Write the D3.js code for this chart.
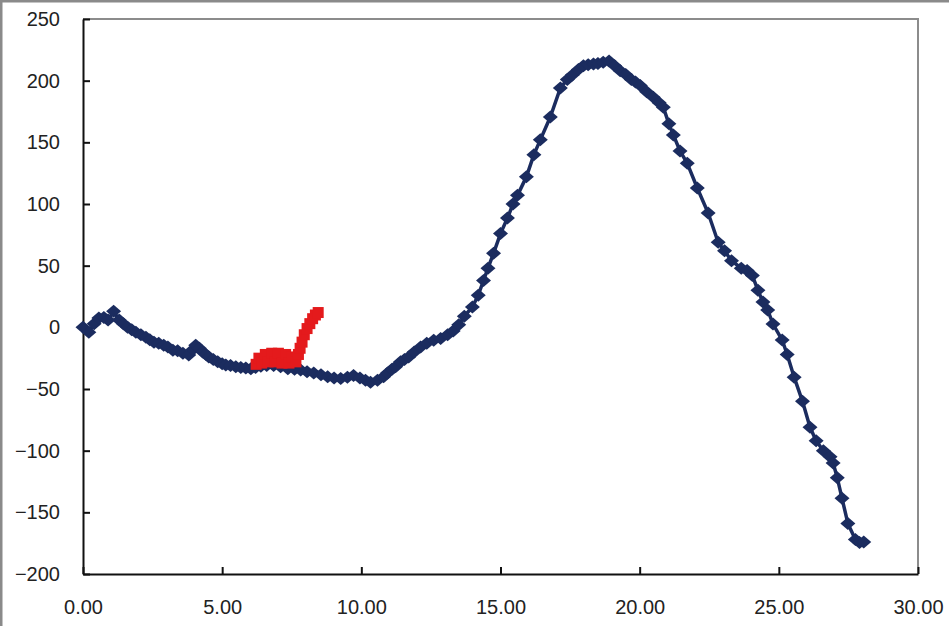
<!DOCTYPE html>
<html>
<head>
<meta charset="utf-8">
<script src="https://cdn.jsdelivr.net/npm/d3@7"></script>
<style>
  html, body { margin: 0; padding: 0; background: #fff; }
  svg { display: block; }
  .axis text { font-family: "Liberation Sans", Arial, sans-serif; font-size: 20px; fill: #222; }
</style>
</head>
<body>
<svg id="chart" width="949" height="626"></svg>
<script>
// Main trace (navy diamonds): x positions and values
const mainX = [0.00,0.21,0.40,0.57,0.75,0.90,1.10,1.30,1.45,1.60,1.75,1.90,2.08,2.26,2.40,2.55,2.72,2.90,3.05,3.23,
  3.40,3.59,3.80,3.95,4.05,4.18,4.30,4.42,4.52,4.68,4.84,5.00,5.13,5.30,5.49,5.67,5.85,6.03,6.20,6.39,
  6.60,6.85,7.10,7.36,7.60,7.82,8.05,8.29,8.55,8.79,9.02,9.26,9.50,9.72,9.95,10.15,10.33,10.58,10.80,10.94,
  11.10,11.23,11.41,11.55,11.70,11.90,12.13,12.35,12.60,12.85,13.10,13.30,13.50,13.70,13.99,14.20,14.39,14.55,14.75,15.00,
  15.25,15.45,15.61,15.93,16.20,16.43,16.79,17.15,17.40,17.58,17.80,17.98,18.15,18.34,18.50,18.69,18.90,19.10,19.30,19.50,
  19.70,19.85,20.02,20.25,20.49,20.70,20.85,21.05,21.21,21.45,21.71,22.07,22.46,22.82,23.05,23.30,23.65,23.86,24.05,24.25,
  24.43,24.60,24.79,25.12,25.30,25.55,25.85,26.12,26.34,26.60,26.84,26.95,27.10,27.27,27.48,27.75,27.90,28.05];
const mainY = [0,-4,3,7.5,8,6,13,6,3,0,-2,-4,-6,-8,-10,-12,-13,-14.5,-16,-18.5,
  -19,-21,-22.5,-18,-14.5,-17,-20,-22,-24,-26,-28,-29.5,-30.5,-31,-32,-32.5,-33,-33.5,-32.5,-31.5,
  -31,-31,-32,-33.5,-34,-34.5,-36,-37,-38.5,-40,-41,-41.5,-40.5,-39,-41,-43,-44.5,-43,-40,-37,
  -34,-32,-28,-26,-24,-20,-16,-13,-10.5,-9,-6,-3,2,9,16.5,26,38,48,60,76,
  88.6,100,107,122,140,152,170.5,194,201,204.5,209,212,213,213.5,214,215,216,212,208,205,
  201,199,196,191,186.5,182,178.5,165,156,143,133,113,92.7,69,62,54,48,46,42,30,
  20.5,14,2.7,-10.3,-22,-40.4,-60,-81,-92,-100,-105,-110,-122,-138.6,-159,-172,-174.5,-174];

// Short branch (red squares)
const branchX = [6.22,6.32,6.42,6.55,6.65,6.78,6.90,7.02,7.15,7.28,7.40,7.52,7.65,7.74,7.80,7.87,7.95,8.05,8.15,8.25,8.35,8.45];
const branchY = [-30,-25,-29,-22,-28,-21,-28,-21,-29,-22,-29,-24,-28,-22,-17,-12,-6,-1,3,7,10,12];

// Axis ticks
const xTicks = [0, 5, 10, 15, 20, 25, 30];
const yTicks = [-200, -150, -100, -50, 0, 50, 100, 150, 200, 250];

const svg = d3.select("#chart");
const W = 949, H = 626;
const plot = { left: 83, right: 918, top: 19, bottom: 574 };

const x = d3.scaleLinear().domain([0, 30]).range([plot.left, plot.right]);
const y = d3.scaleLinear().domain([-200, 250]).range([plot.bottom, plot.top]);

// Outer frame (top and left edges)
svg.append("line").attr("x1", 0).attr("x2", W).attr("y1", 1).attr("y2", 1)
  .attr("stroke", "#8a8a8a").attr("stroke-width", 3);
svg.append("line").attr("x1", 1).attr("x2", 1).attr("y1", 0).attr("y2", H)
  .attr("stroke", "#8a8a8a").attr("stroke-width", 3);

// Plot area border (top and right)
svg.append("path")
  .attr("d", `M${plot.left},${plot.top}H${plot.right}V${plot.bottom}`)
  .attr("fill", "none").attr("stroke", "#8c8c8c").attr("stroke-width", 2);

// Axes
const yAxis = d3.axisLeft(y).tickValues(yTicks).tickSizeInner(-7).tickSizeOuter(0).tickPadding(23);
const xAxis = d3.axisBottom(x).tickValues(xTicks).tickSizeInner(-7).tickSizeOuter(0).tickPadding(26)
  .tickFormat(d3.format(".2f"));

const gy = svg.append("g").attr("class", "axis").attr("transform", `translate(${plot.left},0)`).call(yAxis);
const gx = svg.append("g").attr("class", "axis").attr("transform", `translate(0,${plot.bottom})`).call(xAxis);
[gx, gy].forEach(g => {
  g.selectAll(".domain").attr("stroke", "#111").attr("stroke-width", 2);
  g.selectAll(".tick line").attr("stroke", "#111").attr("stroke-width", 2);
});

const line = d3.line().x(d => x(d[0])).y(d => y(d[1]));

// Main trace
const mainData = mainX.map((v, i) => [v, mainY[i]]);
const navy = "#1b2c5f";
svg.append("path").datum(mainData).attr("d", line)
  .attr("fill", "none").attr("stroke", navy).attr("stroke-width", 3.5).attr("stroke-linejoin", "round");
svg.append("g").selectAll("path").data(mainData).join("path")
  .attr("transform", d => `translate(${x(d[0])},${y(d[1])})`)
  .attr("d", "M0,-6.5L7.5,0L0,6.5L-7.5,0Z")
  .attr("fill", navy);

// Red branch
const branchData = branchX.map((v, i) => [v, branchY[i]]);
const red = "#e41a1c";
svg.append("path").datum(branchData).attr("d", line)
  .attr("fill", "none").attr("stroke", red).attr("stroke-width", 4).attr("stroke-linejoin", "round");
svg.append("g").selectAll("rect").data(branchData).join("rect")
  .attr("x", d => x(d[0]) - 5.5).attr("y", d => y(d[1]) - 5.5)
  .attr("width", 11).attr("height", 11)
  .attr("fill", red);
</script>
</body>
</html>
